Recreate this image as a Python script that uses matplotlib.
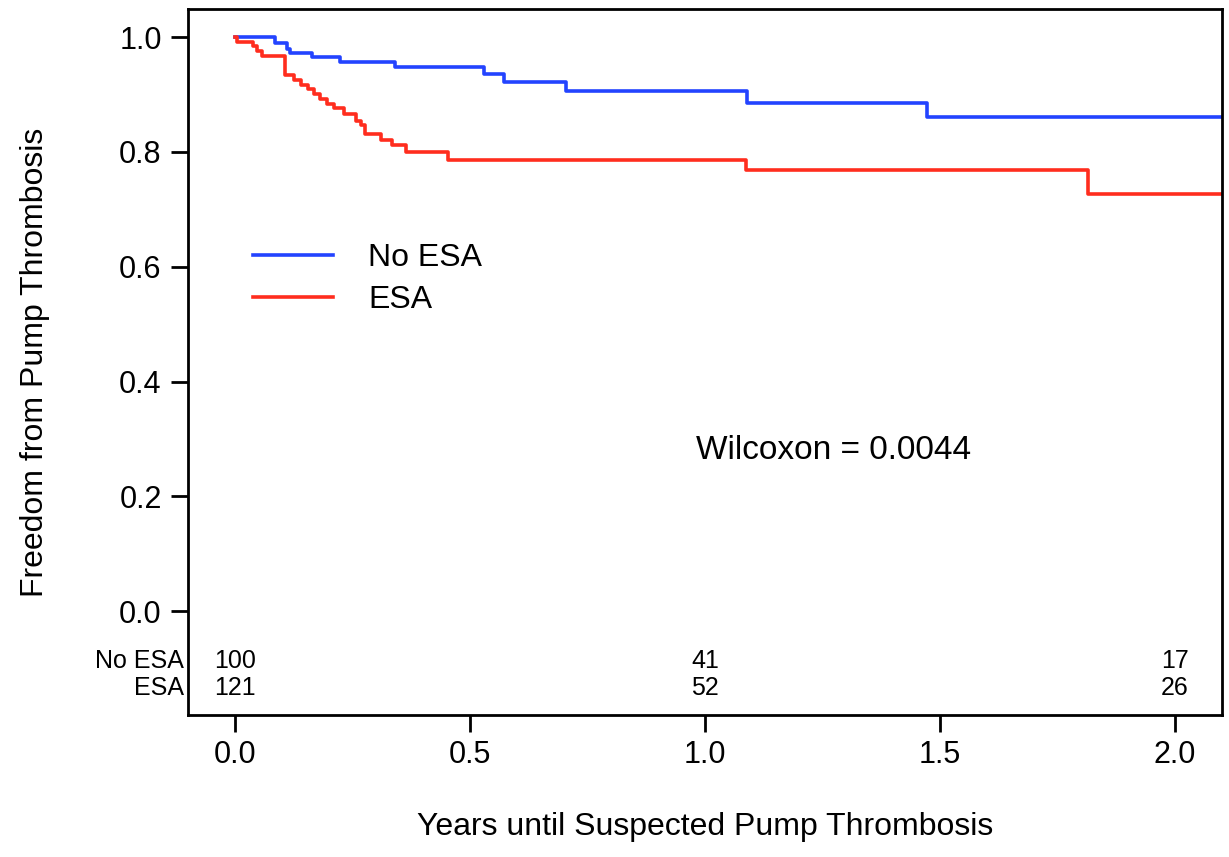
import matplotlib
matplotlib.use("Agg")
import matplotlib.pyplot as plt
import matplotlib.transforms as mtransforms

plt.rcParams['font.family'] = ['Liberation Sans', 'DejaVu Sans']

# Kaplan-Meier step data (time in years, survival after each step)
no_esa_t = [0.0, 0.085, 0.110, 0.117, 0.163, 0.223, 0.340, 0.529, 0.573, 0.705, 1.090, 1.472, 2.1]
no_esa_s = [1.000, 0.990, 0.980, 0.972, 0.965, 0.956, 0.948, 0.935, 0.921, 0.906, 0.886, 0.861, 0.861]

esa_t = [0.0, 0.005, 0.039, 0.046, 0.057, 0.106, 0.125, 0.140, 0.155, 0.168, 0.180, 0.195,
         0.210, 0.232, 0.258, 0.268, 0.276, 0.311, 0.333, 0.364, 0.453, 1.087, 1.815, 2.1]
esa_s = [1.000, 0.992, 0.984, 0.975, 0.967, 0.934, 0.926, 0.917, 0.909, 0.901, 0.893, 0.884,
         0.876, 0.866, 0.853, 0.847, 0.832, 0.821, 0.812, 0.800, 0.786, 0.768, 0.727, 0.727]

series_labels = ["No ESA", "ESA"]
risk_times = [0.0, 1.0, 2.0]
risk_no_esa = [100, 41, 17]
risk_esa = [121, 52, 26]

xticks = [0.0, 0.5, 1.0, 1.5, 2.0]
yticks = [0.0, 0.2, 0.4, 0.6, 0.8, 1.0]

blue = '#2343ff'
red = '#ff2d1e'

fig = plt.figure(figsize=(12.29, 8.57), dpi=100)
ax = fig.add_axes([0.153, 0.1657, 0.9943 - 0.153, 0.9895 - 0.1657])

ax.step(no_esa_t, no_esa_s, where='post', color=blue, lw=2.6, label=series_labels[0])
ax.step(esa_t, esa_s, where='post', color=red, lw=2.6, label=series_labels[1])

ax.set_xlim(-0.1, 2.1)
ax.set_ylim(-0.181, 1.049)

ax.set_xticks(xticks)
ax.set_xticklabels([f"{v:.1f}" for v in xticks])
ax.set_yticks(yticks)
ax.set_yticklabels([f"{v:.1f}" for v in yticks])

for sp in ax.spines.values():
    sp.set_linewidth(2.0)
    sp.set_color('black')

ax.tick_params(axis='both', direction='out', length=12, width=2.0, labelsize=22,
               colors='black')
ax.tick_params(axis='x', pad=6)
ax.tick_params(axis='y', pad=7)

ax.set_xlabel("Years until Suspected Pump Thrombosis", fontsize=23, labelpad=30)
ax.set_ylabel("Freedom from Pump Thrombosis", fontsize=23, labelpad=50)

# Legend
ax.legend(loc='upper left', bbox_to_anchor=(0.035, 0.709), frameon=False,
          fontsize=23, handlelength=2.5, handletextpad=1.1, labelspacing=0.38)

# Wilcoxon annotation
ax.text(0.98, 0.28, "Wilcoxon = 0.0044", fontsize=24, ha='left', va='center')

# Number at risk table
row_y = [-0.087, -0.134]
trans = mtransforms.blended_transform_factory(ax.transAxes, ax.transData)
for lab, y in zip(series_labels, row_y):
    ax.text(-0.004, y, lab, transform=trans, ha='right', va='center', fontsize=18)
for t, n1, n2 in zip(risk_times, risk_no_esa, risk_esa):
    ax.text(t, row_y[0], str(n1), ha='center', va='center', fontsize=18)
    ax.text(t, row_y[1], str(n2), ha='center', va='center', fontsize=18)

fig.savefig("out.png", dpi=100)
